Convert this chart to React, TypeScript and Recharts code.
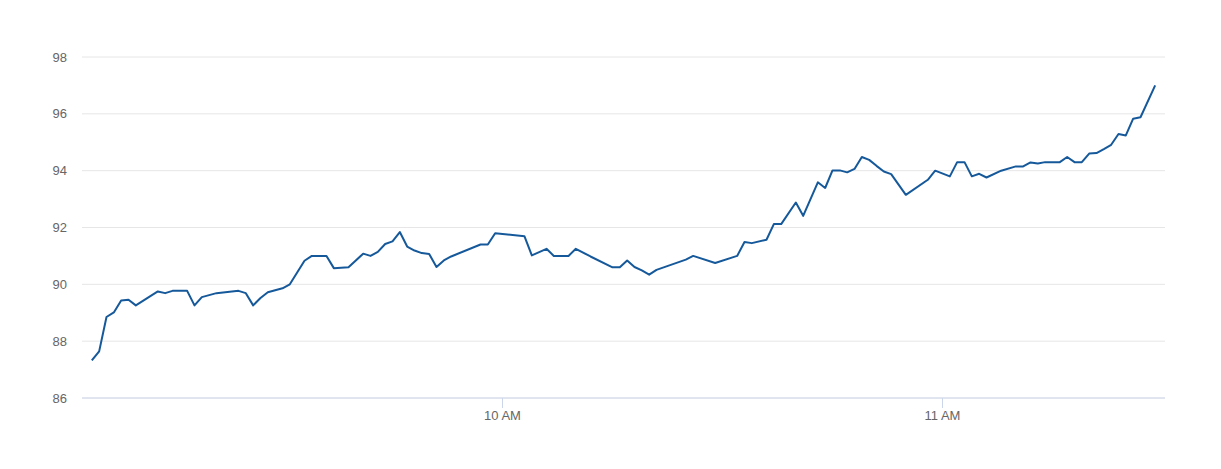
import { CartesianGrid, Line, LineChart, XAxis, YAxis } from "recharts";

const times = [
  "9:04", "9:05", "9:06", "9:07", "9:08", "9:09", "9:10", "9:13", "9:14", "9:15",
  "9:17", "9:18", "9:19", "9:21", "9:24", "9:25", "9:26", "9:27", "9:28", "9:30",
  "9:31", "9:33", "9:34", "9:36", "9:37", "9:39", "9:41", "9:42", "9:43", "9:44",
  "9:45", "9:46", "9:47", "9:48", "9:49", "9:50", "9:51", "9:52", "9:53", "9:57",
  "9:58", "9:59", "10:03", "10:04", "10:06", "10:07", "10:09", "10:10", "10:12", "10:15",
  "10:16", "10:17", "10:18", "10:19", "10:20", "10:21", "10:25", "10:26", "10:29", "10:32",
  "10:33", "10:34", "10:36", "10:37", "10:38", "10:40", "10:41", "10:43", "10:44", "10:45",
  "10:46", "10:47", "10:48", "10:49", "10:50", "10:51", "10:52", "10:53", "10:55", "10:58",
  "10:59", "11:01", "11:02", "11:03", "11:04", "11:05", "11:06", "11:08", "11:10", "11:11",
  "11:12", "11:13", "11:14", "11:16", "11:17", "11:18", "11:19", "11:20", "11:21", "11:22",
  "11:23", "11:24", "11:25", "11:26", "11:27", "11:29",
];

const prices = [
  87.32, 87.64, 88.85, 89.01, 89.43, 89.46, 89.26, 89.75, 89.69, 89.77,
  89.77, 89.26, 89.55, 89.69, 89.77, 89.69, 89.26, 89.52, 89.72, 89.86,
  90.0, 90.83, 91.0, 91.0, 90.57, 90.6, 91.08, 91.0, 91.14, 91.42,
  91.51, 91.84, 91.33, 91.19, 91.1, 91.07, 90.61, 90.84, 90.98, 91.4,
  91.4, 91.8, 91.69, 91.02, 91.25, 91.0, 91.0, 91.25, 90.98, 90.6,
  90.6, 90.84, 90.61, 90.49, 90.34, 90.51, 90.87, 91.0, 90.75, 91.0,
  91.49, 91.45, 91.57, 92.12, 92.12, 92.88, 92.41, 93.59, 93.39, 94.01,
  94.01, 93.94, 94.06, 94.48, 94.38, 94.17, 93.97, 93.88, 93.15, 93.68,
  94.0, 93.8, 94.3, 94.3, 93.8, 93.89, 93.76, 94.0, 94.15, 94.15,
  94.29, 94.25, 94.3, 94.3, 94.48, 94.3, 94.3, 94.6, 94.62, 94.76,
  94.91, 95.29, 95.24, 95.83, 95.88, 97.0,
];

const yTicks = [86, 88, 90, 92, 94, 96, 98];
const xTicks = ["10:00", "11:00"];
const xTickLabels = ["10 AM", "11 AM"];

const toMinutes = (s: string) => {
  const [h, m] = s.split(":").map(Number);
  return h * 60 + m;
};

const data = times.map((t, i) => ({ t: toMinutes(t), price: prices[i] }));
const xTickValues = xTicks.map(toMinutes);

const axisFont = { fontSize: 13, fill: "#666666", fontFamily: "Liberation Sans, Arial, sans-serif" };

export default function App() {
  return (
    <div style={{ position: "absolute", left: 0, top: 0, background: "#fff" }}>
      <LineChart width={1221} height={469} data={data} margin={{ top: 57, right: 56, bottom: 0, left: 0 }}>
        <CartesianGrid vertical={false} stroke="#e6e6e6" />
        <XAxis
          dataKey="t"
          type="number"
          domain={[542.66, 690.34]}
          ticks={xTickValues}
          tickFormatter={(v) => xTickLabels[xTickValues.indexOf(v)]}
          height={71}
          stroke="#ccd6eb"
          tickSize={10}
          tickMargin={3}
          tick={axisFont}
          allowDataOverflow
        />
        <YAxis
          domain={[86, 98]}
          ticks={yTicks}
          width={82}
          axisLine={false}
          tickLine={false}
          tickSize={0}
          tickMargin={15}
          tick={axisFont}
        />
        <Line
          type="linear"
          dataKey="price"
          stroke="#16599b"
          strokeWidth={2}
          strokeLinejoin="round"
          dot={false}
          isAnimationActive={false}
        />
      </LineChart>
    </div>
  );
}
